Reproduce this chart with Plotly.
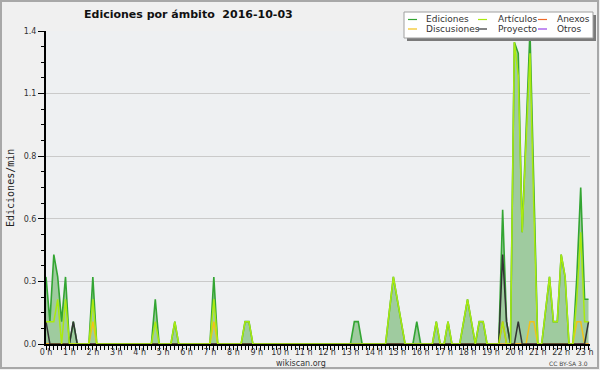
import plotly.graph_objects as go

# ---------------- data (edits per minute, 10-minute slots from 00:00) ----------------
hour_labels = [f"{h} h" for h in range(24)]
y_tick_values = [0, 0.28, 0.56, 0.84, 1.12, 1.4]
y_tick_labels = ["0.0", "0.3", "0.6", "0.8", "1.1", "1.4"]

ediciones = [
    0.3, 0.1, 0.4, 0.3, 0.1, 0.3, 0, 0.1, 0, 0, 0, 0,
    0.3, 0, 0, 0, 0, 0, 0, 0, 0, 0, 0, 0,
    0, 0, 0, 0, 0.2, 0, 0, 0, 0, 0.1, 0, 0,
    0, 0, 0, 0, 0, 0, 0, 0.3, 0, 0, 0, 0,
    0, 0, 0, 0.1, 0.1, 0, 0, 0, 0, 0, 0, 0,
    0, 0, 0, 0, 0, 0, 0, 0, 0, 0, 0, 0,
    0, 0, 0, 0, 0, 0, 0, 0.1, 0.1, 0, 0, 0,
    0, 0, 0, 0, 0.15, 0.3, 0.2, 0.1, 0, 0, 0, 0.1,
    0, 0, 0, 0, 0.1, 0, 0, 0.1, 0, 0, 0, 0.1,
    0.2, 0.1, 0, 0.1, 0.1, 0, 0, 0, 0, 0.6, 0.1, 0,
    1.35, 1.3, 0.5, 0.95, 1.4, 0.7, 0, 0, 0.15, 0.3, 0.1, 0.1,
    0.4, 0.3, 0, 0, 0.3, 0.7, 0.2, 0.2,
]
articulos = [
    0.1, 0.1, 0.1, 0.2, 0, 0.2, 0, 0, 0, 0, 0, 0,
    0.2, 0, 0, 0, 0, 0, 0, 0, 0, 0, 0, 0,
    0, 0, 0, 0, 0.1, 0, 0, 0, 0, 0.1, 0, 0,
    0, 0, 0, 0, 0, 0, 0, 0.2, 0, 0, 0, 0,
    0, 0, 0, 0.1, 0.1, 0, 0, 0, 0, 0, 0, 0,
    0, 0, 0, 0, 0, 0, 0, 0, 0, 0, 0, 0,
    0, 0, 0, 0, 0, 0, 0, 0, 0, 0, 0, 0,
    0, 0, 0, 0, 0.15, 0.3, 0.2, 0.1, 0, 0, 0, 0,
    0, 0, 0, 0, 0.1, 0, 0, 0.1, 0, 0, 0, 0.1,
    0.2, 0.1, 0, 0.1, 0.1, 0, 0, 0, 0, 0.1, 0, 0,
    1.35, 1.2, 0.5, 0.9, 1.3, 0.6, 0, 0, 0.15, 0.3, 0.1, 0.1,
    0.4, 0.3, 0, 0, 0.2, 0.5, 0.1, 0.1,
]
anexos = [
    0, 0, 0, 0, 0, 0, 0, 0, 0, 0, 0, 0,
    0, 0, 0, 0, 0, 0, 0, 0, 0, 0, 0, 0,
    0, 0, 0, 0, 0, 0, 0, 0, 0, 0, 0, 0,
    0, 0, 0, 0, 0, 0, 0, 0, 0, 0, 0, 0,
    0, 0, 0, 0, 0, 0, 0, 0, 0, 0, 0, 0,
    0, 0, 0, 0, 0, 0, 0, 0, 0, 0, 0, 0,
    0, 0, 0, 0, 0, 0, 0, 0, 0, 0, 0, 0,
    0, 0, 0, 0, 0, 0, 0, 0, 0, 0, 0, 0,
    0, 0, 0, 0, 0, 0, 0, 0, 0, 0, 0, 0,
    0, 0, 0, 0, 0, 0, 0, 0, 0, 0.1, 0, 0,
    0, 0, 0, 0, 0, 0, 0, 0, 0, 0, 0, 0,
    0, 0, 0, 0, 0, 0, 0, 0,
]
discusiones = [
    0, 0, 0, 0, 0, 0, 0, 0, 0, 0, 0, 0,
    0.1, 0, 0, 0, 0, 0, 0, 0, 0, 0, 0, 0,
    0, 0, 0, 0, 0, 0, 0, 0, 0, 0, 0, 0,
    0, 0, 0, 0, 0, 0, 0, 0.1, 0, 0, 0, 0,
    0, 0, 0, 0, 0, 0, 0, 0, 0, 0, 0, 0,
    0, 0, 0, 0, 0, 0, 0, 0, 0, 0, 0, 0,
    0, 0, 0, 0, 0, 0, 0, 0, 0, 0, 0, 0,
    0, 0, 0, 0, 0, 0, 0, 0, 0, 0, 0, 0,
    0, 0, 0, 0, 0, 0, 0, 0, 0, 0, 0, 0,
    0, 0, 0, 0, 0, 0, 0, 0, 0, 0, 0, 0,
    0, 0, 0, 0, 0.1, 0.1, 0, 0, 0, 0, 0, 0,
    0, 0, 0, 0, 0.1, 0.1, 0, 0,
]
proyecto = [
    0.1, 0, 0, 0, 0, 0, 0, 0.1, 0, 0, 0, 0,
    0, 0, 0, 0, 0, 0, 0, 0, 0, 0, 0, 0,
    0, 0, 0, 0, 0, 0, 0, 0, 0, 0, 0, 0,
    0, 0, 0, 0, 0, 0, 0, 0, 0, 0, 0, 0,
    0, 0, 0, 0, 0, 0, 0, 0, 0, 0, 0, 0,
    0, 0, 0, 0, 0, 0, 0, 0, 0, 0, 0, 0,
    0, 0, 0, 0, 0, 0, 0, 0, 0, 0, 0, 0,
    0, 0, 0, 0, 0, 0, 0, 0, 0, 0, 0, 0,
    0, 0, 0, 0, 0, 0, 0, 0, 0, 0, 0, 0,
    0, 0, 0, 0, 0, 0, 0, 0, 0, 0.4, 0.1, 0,
    0, 0.1, 0, 0, 0, 0, 0, 0, 0, 0, 0, 0,
    0, 0, 0, 0, 0, 0, 0, 0.1,
]
otros = [0] * len(ediciones)

slot_hours = [i / 6 for i in range(len(ediciones))]  # 10-minute slots

# ---------------- styling ----------------
W, H = 600, 370
L, R, T, B = 46, 590, 31, 344


def px(x):
    return (x - L) / (R - L)


def py(y):
    return (B - y) / (B - T)


C_ED = "#33a533"
C_ED_FILL = "#9fcb9f"
C_ART = "#aaea10"
C_ANX = "#f06a28"
C_DIS = "#f2c21a"
C_PRO = "#333333"
C_OTR = "#9a44e8"

fig = go.Figure()
fig.add_trace(go.Scatter(x=slot_hours, y=ediciones, mode="lines", fill="tozeroy",
                         fillcolor=C_ED_FILL, line=dict(color=C_ED, width=1.6), name="Ediciones"))
series = [
    ("Otros", otros, C_OTR),
    ("Anexos", anexos, C_ANX),
    ("Discusiones", discusiones, C_DIS),
    ("Proyecto", proyecto, C_PRO),
    ("Artículos", articulos, C_ART),
]
for name, vals, col in series:
    fig.add_trace(go.Scatter(x=slot_hours, y=vals, mode="lines", name=name,
                             line=dict(color=col, width=1.5)))

tick_font = dict(family="DejaVu Sans", size=8, color="#333333")
fig.update_layout(
    template="none",
    width=W, height=H,
    margin=dict(l=L, r=W - R, t=T, b=H - B, pad=0, autoexpand=False),
    paper_bgcolor="#f0f0f0",
    plot_bgcolor="#eef0f2",
    showlegend=False,
    xaxis=dict(
        range=[0, 23.23], automargin=False,
        tickmode="array", tickvals=list(range(24)), ticktext=hour_labels,
        ticks="outside", ticklen=4, tickcolor="black", tickwidth=1,
        tickfont=tick_font, ticklabelstandoff=-5,
        showgrid=False, zeroline=False,
        showline=True, linecolor="black", linewidth=2,
        minor=dict(dtick=1 / 6, tick0=0, ticks="outside", ticklen=4,
                   tickcolor="black", tickwidth=1, showgrid=False),
    ),
    yaxis=dict(
        range=[0, 1.4], automargin=False,
        tickmode="array", tickvals=y_tick_values, ticktext=y_tick_labels,
        ticks="outside", ticklen=6, tickcolor="black", tickwidth=1,
        tickfont=tick_font,
        showgrid=True, gridcolor="#cacaca", gridwidth=1, zeroline=False,
        showline=True, linecolor="black", linewidth=2,
        minor=dict(dtick=0.07, tick0=0, ticks="outside", ticklen=3,
                   tickcolor="black", tickwidth=1, showgrid=False),
    ),
)

shapes = []
annotations = []

# outer frame
shapes.append(dict(type="rect", xref="paper", yref="paper",
                   x0=px(1), x1=px(598), y0=py(1), y1=py(368),
                   line=dict(color="#a8a8a8", width=2), fillcolor="rgba(0,0,0,0)", layer="above"))

# title
annotations.append(dict(text="<b>Ediciones por ámbito  2016-10-03</b>", xref="paper", yref="paper",
                        x=px(188.5), y=py(14), xanchor="center", yanchor="middle", showarrow=False,
                        font=dict(family="DejaVu Sans", size=11, color="#111111")))
# y axis title
annotations.append(dict(text="Ediciones/min", xref="paper", yref="paper",
                        x=px(10), y=py(188), xanchor="center", yanchor="middle", showarrow=False,
                        textangle=-90, font=dict(family="DejaVu Sans Mono", size=10, color="#222222")))
# footer
annotations.append(dict(text="wikiscan.org", xref="paper", yref="paper",
                        x=px(301), y=py(363), xanchor="center", yanchor="middle", showarrow=False,
                        font=dict(family="DejaVu Sans", size=8, color="#333333")))
annotations.append(dict(text="CC BY-SA 3.0", xref="paper", yref="paper",
                        x=px(590), y=py(363), xanchor="right", yanchor="middle", showarrow=False,
                        font=dict(family="DejaVu Sans", size=6, color="#444444")))

# legend box with shadow
shapes.append(dict(type="rect", xref="paper", yref="paper",
                   x0=px(407), x1=px(596), y0=py(15), y1=py(41),
                   line=dict(width=0), fillcolor="#7a7a7a", layer="above"))
shapes.append(dict(type="rect", xref="paper", yref="paper",
                   x0=px(404), x1=px(593), y0=py(12), y1=py(38),
                   line=dict(color="#a0a0a0", width=1), fillcolor="#ffffff", layer="above"))

legend_items = [
    ("Ediciones", C_ED, 408, 424, 19.5),
    ("Discusiones", C_DIS, 408, 424, 29),
    ("Artículos", C_ART, 478, 496, 19.5),
    ("Proyecto", C_PRO, 478, 496, 29),
    ("Anexos", C_ANX, 538, 555, 19.5),
    ("Otros", C_OTR, 538, 555, 29),
]
for label, col, lx, tx, ly in legend_items:
    shapes.append(dict(type="line", xref="paper", yref="paper",
                       x0=px(lx), x1=px(lx + 9), y0=py(ly), y1=py(ly),
                       line=dict(color=col, width=1.2), layer="above"))
    annotations.append(dict(text=label, xref="paper", yref="paper",
                            x=px(tx), y=py(ly), xanchor="left", yanchor="middle", showarrow=False,
                            font=dict(family="DejaVu Sans", size=9, color="#333333")))

fig.update_layout(shapes=shapes, annotations=annotations)
fig.write_html("out.html")
